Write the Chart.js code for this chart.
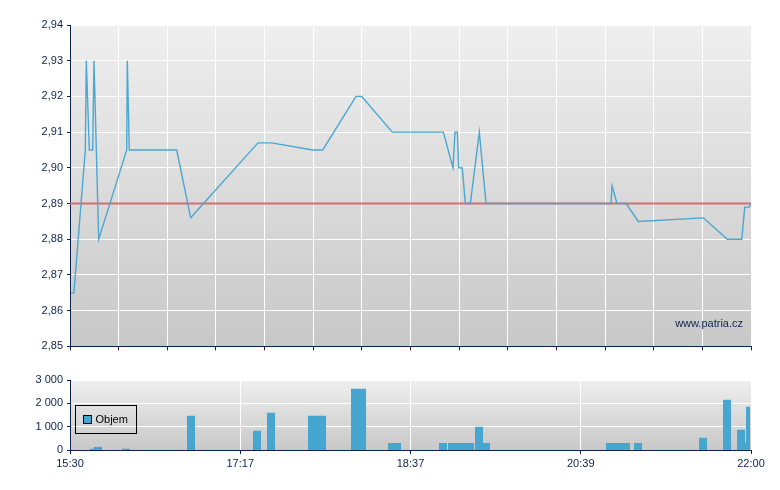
<!DOCTYPE html>
<html>
<head>
<meta charset="utf-8">
<title>Patria</title>
<script src="https://cdn.jsdelivr.net/npm/chart.js@4.4.1/dist/chart.umd.min.js"></script>
<style>
  body { margin: 0; background: #fff; }
  #wrap { position: relative; width: 780px; height: 490px; }
  #priceChart { position: absolute; left: 0; top: 0; }
  #volumeChart { position: absolute; left: 0; top: 360px; }
</style>
</head>
<body>
<div id="wrap">
  <canvas id="priceChart" width="780" height="357"></canvas>
  <canvas id="volumeChart" width="780" height="130"></canvas>
</div>
<script>
// x positions are in grid columns: 0 = 15:30, 14 = 22:00
const priceTicks = [2.85, 2.86, 2.87, 2.88, 2.89, 2.90, 2.91, 2.92, 2.93, 2.94]
const volumeTicks = [0, 1000, 2000, 3000]
const timeTicks = [0, 3.5, 7, 10.5, 14]
const timeLabels = ['15:30', '17:17', '18:37', '20:39', '22:00']
const prevClose = 2.89

const priceX = [0.02, 0.08, 0.315, 0.335, 0.397, 0.467, 0.493, 0.59, 1.166, 1.178, 1.219, 2.194, 2.481,
  3.865, 4.147, 4.99, 5.195, 5.88, 5.997, 6.626, 7.675, 7.874, 7.915, 7.963, 7.991, 8.065, 8.127, 8.23,
  8.415, 8.553, 11.122, 11.143, 11.246, 11.431, 11.684, 13.02, 13.513, 13.81, 13.871, 13.966, 13.99]
const priceY = [2.865, 2.865, 2.905, 2.93, 2.905, 2.905, 2.93, 2.88, 2.905, 2.93, 2.905, 2.905, 2.886,
  2.907, 2.907, 2.905, 2.905, 2.92, 2.92, 2.91, 2.91, 2.90, 2.91, 2.91, 2.90, 2.90, 2.89, 2.89,
  2.91, 2.89, 2.89, 2.895, 2.89, 2.89, 2.885, 2.886, 2.88, 2.88, 2.889, 2.889, 2.89]

const volumeStart = [0.411, 0.493, 1.069, 2.405, 3.762, 4.05, 4.893, 5.777, 6.538, 7.586, 7.771, 8.326,
  8.491, 11.02, 11.595, 12.932, 13.425, 13.713, 13.877, 13.898]
const volumeEnd = [0.493, 0.658, 1.234, 2.57, 3.927, 4.215, 5.263, 6.086, 6.805, 7.751, 8.306, 8.491,
  8.635, 11.513, 11.76, 13.096, 13.59, 13.877, 13.898, 13.98]
const volumeValue = [50, 130, 50, 1470, 820, 1600, 1470, 2630, 300, 300, 300, 1000,
  300, 300, 300, 520, 2150, 870, 300, 1850]

const navy = '#0d2350'
const blue = '#4aa7d1'

Chart.defaults.font.family = "'Liberation Sans', Arial, sans-serif"
Chart.defaults.font.size = 11
Chart.defaults.color = navy

const plotBackground = {
  id: 'plotBackground',
  beforeDraw(chart) {
    const { ctx, chartArea: a } = chart
    const g = ctx.createLinearGradient(0, a.top, 0, a.bottom)
    g.addColorStop(0, '#efefef')
    g.addColorStop(1, '#c8c8c8')
    ctx.save()
    ctx.fillStyle = g
    ctx.fillRect(a.left, a.top, a.right - a.left, a.bottom - a.top)
    ctx.restore()
  }
}

const watermark = {
  id: 'watermark',
  afterDatasetsDraw(chart) {
    const { ctx, chartArea: a } = chart
    ctx.save()
    ctx.font = "11px 'Liberation Sans', Arial, sans-serif"
    ctx.fillStyle = navy
    ctx.textAlign = 'right'
    ctx.textBaseline = 'middle'
    ctx.fillText('www.patria.cz', a.right - 8, a.bottom - 22)
    ctx.restore()
  }
}

const boxLegend = {
  id: 'boxLegend',
  afterDraw(chart) {
    const { ctx, chartArea: a } = chart
    const ds = chart.data.datasets[0]
    const x = a.left + 5.5
    const y = a.top + 25.5
    ctx.save()
    ctx.strokeStyle = '#000'
    ctx.lineWidth = 1
    ctx.strokeRect(x, y, 61, 28)
    ctx.fillStyle = ds.backgroundColor
    ctx.fillRect(x + 8, y + 10, 8, 8)
    ctx.strokeRect(x + 8, y + 10, 8, 8)
    ctx.font = "11px 'Liberation Sans', Arial, sans-serif"
    ctx.fillStyle = '#000'
    ctx.textBaseline = 'middle'
    ctx.fillText(ds.label, x + 20, y + 14.5)
    ctx.restore()
  }
}

function toPoints(xs, ys) {
  return xs.map((x, i) => ({ x: x, y: ys[i] }))
}

function volumeOutline() {
  const pts = []
  volumeStart.forEach((s, i) => {
    pts.push({ x: s, y: 0 }, { x: s, y: volumeValue[i] }, { x: volumeEnd[i], y: volumeValue[i] }, { x: volumeEnd[i], y: 0 })
  })
  return pts
}

function thousands(v) {
  return String(v).replace(/\B(?=(\d{3})+(?!\d))/g, ' ')
}

new Chart(document.getElementById('priceChart'), {
  type: 'line',
  data: {
    datasets: [{
      label: 'Cena',
      data: toPoints(priceX, priceY),
      borderColor: blue,
      borderWidth: 1.4,
      pointRadius: 0,
      tension: 0
    }, {
      label: 'Předchozí',
      data: [{ x: 0, y: prevClose }, { x: 14, y: prevClose }],
      borderColor: '#d26f6f',
      borderWidth: 2,
      pointRadius: 0
    }]
  },
  options: {
    responsive: false,
    animation: false,
    layout: { padding: { top: 25, right: 29, left: 0, bottom: 0 } },
    plugins: { legend: { display: false }, tooltip: { enabled: false } },
    scales: {
      x: {
        type: 'linear',
        min: 0,
        max: 14,
        ticks: { display: false, stepSize: 1 },
        grid: { color: '#fff', tickColor: navy, tickLength: 4 },
        border: { color: navy },
        afterFit: (s) => { s.height = 7 }
      },
      y: {
        min: 2.85,
        max: 2.94,
        afterBuildTicks: (s) => { s.ticks = priceTicks.map((v) => ({ value: v })) },
        ticks: { padding: 4, callback: (v) => v.toFixed(2).replace('.', ',') },
        grid: { color: '#fff', tickColor: navy, tickLength: 3 },
        border: { color: navy },
        afterFit: (s) => { s.width = 70 }
      }
    }
  },
  plugins: [plotBackground, watermark]
})

new Chart(document.getElementById('volumeChart'), {
  type: 'line',
  data: {
    datasets: [{
      label: 'Objem',
      data: volumeOutline(),
      backgroundColor: '#46a6cf',
      borderColor: 'rgba(0,0,0,0)',
      borderWidth: 0,
      pointRadius: 0,
      tension: 0,
      fill: 'origin'
    }]
  },
  options: {
    responsive: false,
    animation: false,
    layout: { padding: { top: 20, right: 29, left: 0, bottom: 0 } },
    plugins: { legend: { display: false }, tooltip: { enabled: false } },
    scales: {
      x: {
        type: 'linear',
        min: 0,
        max: 14,
        afterBuildTicks: (s) => { s.ticks = timeTicks.map((v) => ({ value: v })) },
        ticks: { padding: 3, autoSkip: false, maxRotation: 0, callback: (v, i) => timeLabels[i] },
        grid: { color: '#fff', tickColor: navy, tickLength: 4 },
        border: { color: navy },
        afterFit: (s) => { s.height = 40 }
      },
      y: {
        min: 0,
        max: 3000,
        afterBuildTicks: (s) => { s.ticks = volumeTicks.map((v) => ({ value: v })) },
        ticks: { padding: 4, callback: (v) => thousands(v) },
        grid: { color: '#fff', tickColor: navy, tickLength: 3 },
        border: { color: navy },
        afterFit: (s) => { s.width = 70 }
      }
    }
  },
  plugins: [plotBackground, boxLegend]
})
</script>
</body>
</html>
